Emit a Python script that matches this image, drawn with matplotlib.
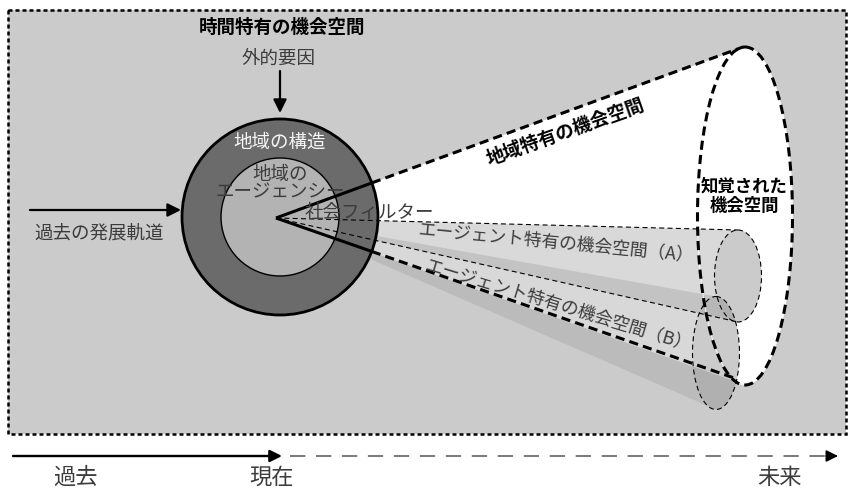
import numpy as np
import matplotlib
matplotlib.use("Agg")
import matplotlib.pyplot as plt
from matplotlib.patches import Rectangle, Circle, Ellipse, Polygon

plt.rcParams['font.family'] = ['Noto Sans CJK JP', 'DejaVu Sans']

# labels of the diagram
title = "時間特有の機会空間"
external = "外的要因"
past_path = "過去の発展軌道"
structure = "地域の構造"
agency = "地域の\nエージェンシー"
social_filter = "社会フィルター"
regional_space = "地域特有の機会空間"
perceived_space = "知覚された\n機会空間"
agent_spaces = ["エージェント特有の機会空間（A）", "エージェント特有の機会空間（B）"]
time_labels = ["過去", "現在", "未来"]

BG = "#cbcbcb"
TXT = "#3c3c3c"


def half_ellipse(cx, cy, w, h, n=60):
    # right half, from top to bottom
    t = np.linspace(np.pi / 2, -np.pi / 2, n)
    return np.column_stack([cx + w / 2 * np.cos(t), cy - h / 2 * np.sin(t)])


def cone(apex, cx, cy, w, h):
    pts = half_ellipse(cx, cy, w, h)
    return np.vstack([[apex], pts])


def circle_exit(apex, end, c, r):
    # point where segment apex->end leaves the circle
    p0 = np.array(apex, float)
    d = np.array(end, float) - p0
    f = p0 - np.array(c, float)
    a = d @ d
    b = 2 * f @ d
    cc = f @ f - r * r
    t = (-b + np.sqrt(b * b - 4 * a * cc)) / (2 * a)
    return p0 + t * d


fig = plt.figure(figsize=(8.52, 4.9), dpi=100)
ax = fig.add_axes([0, 0, 1, 1])
ax.set_xlim(0, 852)
ax.set_ylim(490, 0)
ax.axis('off')

# background box
ax.add_patch(Rectangle((8, 10), 838, 424, facecolor=BG, edgecolor='none', zorder=0))
ax.add_patch(Rectangle((8, 10), 838, 424, facecolor='none', edgecolor='black',
                       lw=1.8, linestyle=(0, (1.6, 1.2)), zorder=20))

apex = (276, 218)
center = (280, 217)
r_out, r_in = 98, 59
big = (745, 216, 95, 338)
ell_a = (738, 276, 47, 92)
ell_b = (716, 353, 47, 113)

# cones
ax.add_patch(Polygon(cone(apex, *big), closed=True, facecolor='white', edgecolor='none', zorder=1))
ax.add_patch(Polygon(cone(apex, *ell_a), closed=True, facecolor='#d9d9d9', edgecolor='none', zorder=2))
ax.add_patch(Ellipse(ell_a[:2], ell_a[2], ell_a[3], facecolor='#cbcbcb', edgecolor='none', zorder=3))
ax.add_patch(Polygon(cone(apex, *ell_b), closed=True, facecolor='#a8a8a8', alpha=0.44,
                     edgecolor='none', zorder=4))
ax.add_patch(Ellipse(ell_b[:2], ell_b[2], ell_b[3], facecolor='black', alpha=0.06,
                     edgecolor='none', zorder=5))

# ellipse outlines
ax.add_patch(Ellipse(big[:2], big[2], big[3], facecolor='none', edgecolor='white', lw=0.6, zorder=6))
ax.add_patch(Ellipse(big[:2], big[2], big[3], facecolor='none', edgecolor='black',
                     lw=2.2, linestyle=(0, (3, 1.7)), zorder=7))
for e in (ell_a, ell_b):
    ax.add_patch(Ellipse(e[:2], e[2], e[3], facecolor='none', edgecolor='black',
                         lw=0.8, linestyle=(0, (4.5, 3)), zorder=7))

# circles
ax.add_patch(Circle(center, r_out, facecolor='#6b6b6b', edgecolor='black', lw=2, zorder=8))
ax.add_patch(Circle(center, r_in, facecolor='#b3b3b3', edgecolor='black', lw=1, zorder=9))

# edges of the big cone
for end in [(big[0] - 2, big[1] - big[3] / 2), (big[0] - 8, big[1] + big[3] / 2 - 6)]:
    p = circle_exit(apex, end, center, r_out)
    ax.plot([apex[0], p[0]], [apex[1], p[1]], color='black', lw=2.2, solid_capstyle='butt', zorder=12)
    ax.plot([p[0], end[0]], [p[1], end[1]], color='black', lw=2.2,
            linestyle=(0, (3, 1.7)), zorder=12)

# edges of cone A
for end in [(ell_a[0], ell_a[1] - ell_a[3] / 2), (ell_a[0], ell_a[1] + ell_a[3] / 2)]:
    ax.plot([apex[0], end[0]], [apex[1], end[1]], color='black', lw=0.8,
            linestyle=(0, (4.5, 3)), zorder=11)

# arrows
arrow = dict(arrowstyle='-|>', color='black', lw=1.6, mutation_scale=20, shrinkA=0, shrinkB=0)
ax.annotate('', xy=(280, 113), xytext=(280, 71), arrowprops=arrow, zorder=12)
ax.annotate('', xy=(181, 210), xytext=(30, 210), arrowprops=arrow, zorder=12)

# timeline
ax.annotate('', xy=(282, 456), xytext=(13, 456),
            arrowprops=dict(arrowstyle='-|>', color='black', lw=1.7, mutation_scale=18,
                            shrinkA=0, shrinkB=0))
ax.plot([290, 828], [456, 456], color='#555555', lw=1.1, linestyle=(0, (10, 7)))
ax.annotate('', xy=(838, 456), xytext=(826, 456),
            arrowprops=dict(arrowstyle='-|>', color='black', lw=1.1, mutation_scale=18,
                            shrinkA=0, shrinkB=0))

# text
fs = 13.3
ax.text(282, 27, title, ha='center', va='center', fontsize=fs, fontweight='bold', zorder=21)
ax.text(279, 59, external, ha='center', va='center', fontsize=fs, color=TXT, zorder=21)
ax.text(99, 233, past_path, ha='center', va='center', fontsize=fs, color=TXT, zorder=21)
ax.text(280, 143, structure, ha='center', va='center', fontsize=fs, color='#f6f6f6', zorder=10)
ax.text(280, 184, agency, ha='center', va='center', fontsize=fs, color=TXT,
        linespacing=0.95, zorder=10)
ax.text(369, 213, social_filter, ha='center', va='center', fontsize=fs, color=TXT, zorder=13)
ax.text(566, 132, regional_space, ha='center', va='center', fontsize=fs, fontweight='bold',
        rotation=19.5, rotation_mode='anchor', zorder=13)
ax.text(744, 196, perceived_space, ha='center', va='center', fontsize=12.5, fontweight='bold',
        linespacing=1.1, zorder=13)
ax.text(556, 243, agent_spaces[0], ha='center', va='center', fontsize=12.8, color=TXT,
        rotation=-5.5, rotation_mode='anchor', zorder=13)
ax.text(558, 305, agent_spaces[1], ha='center', va='center', fontsize=12.8, color=TXT,
        rotation=-17, rotation_mode='anchor', zorder=13)
for lab, x in zip(time_labels, [75, 272, 780]):
    ax.text(x, 477, lab, ha='center', va='center', fontsize=16, color=TXT)

fig.savefig("out.png", dpi=100)
